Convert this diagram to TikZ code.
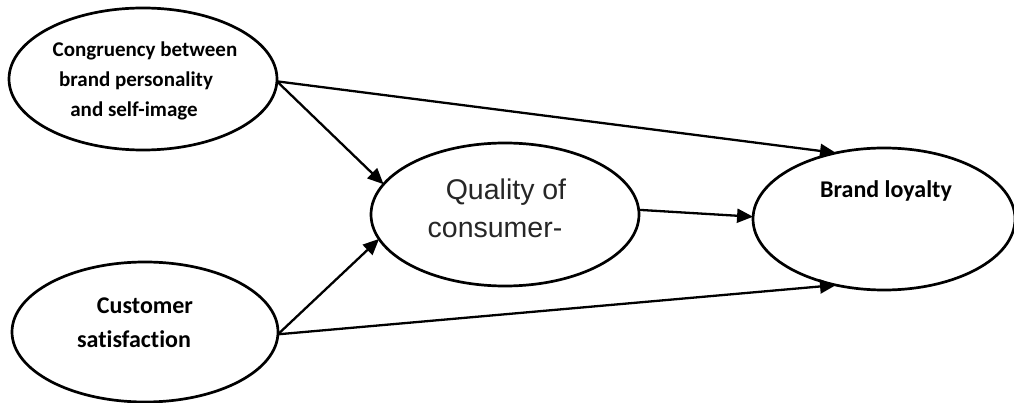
\documentclass[tikz,border=0pt]{standalone}
\usepackage{fontspec}
\setmainfont{Carlito}[Ligatures=NoCommon]
\newfontfamily\arialfont{Liberation Sans}
\usetikzlibrary{shapes.geometric,arrows.meta}
\definecolor{qtext}{HTML}{262626}
\begin{document}
\begin{tikzpicture}[x=1pt,y=-1pt,
  oval/.style={draw=black,line width=2.7pt,ellipse,inner sep=0pt,outer sep=0pt},
  boldlab/.style={anchor=base,inner sep=0pt,font=\bfseries\fontsize{24}{29}\selectfont},
  smalllab/.style={anchor=base,inner sep=0pt,font=\bfseries\fontsize{21}{30}\selectfont},
  qlab/.style={anchor=base,inner sep=0pt,text=qtext,font=\arialfont\fontsize{28.5}{38}\selectfont},
  link/.style={line width=2.3pt,-{Triangle[length=16pt,width=14pt]}}]
\useasboundingbox (0,0) rectangle (1014,403);
\fill[white] (0,0) rectangle (1014,403);
\node[oval,minimum width=268pt,minimum height=142pt] (A) at (143,79) {};
\node[oval,minimum width=268pt,minimum height=143pt] (Q) at (505,214.5) {};
\node[oval,minimum width=262pt,minimum height=142pt] (B) at (884,219) {};
\node[oval,minimum width=266pt,minimum height=140pt] (C) at (145,332) {};
% texts
\node[smalllab] (a1) at (145,57) {Congruency between};
\node[smalllab] (a2) at (136,87) {brand personality};
\node[smalllab] (a3) at (134,117) {and self-image};
\node[qlab] (q1) at (506,200) {Quality of};
\node[qlab] (q2) at (495,238) {consumer-};
\node[boldlab] (b1) at (886,198) {Brand loyalty};
\node[boldlab] (c1) at (145,313) {Customer};
\node[boldlab] (c2) at (134,347) {satisfaction};
% connectors
\draw[link] (A.-1) -- (B.126.2);
\draw[link] (A.-1) -- (Q.166.5);
\draw[link] (Q.2) -- (B.179);
\draw[link] (C.-1.7) -- (Q.191.4);
\draw[link] (C.-1.7) -- (B.234.2);
\end{tikzpicture}
\end{document}
